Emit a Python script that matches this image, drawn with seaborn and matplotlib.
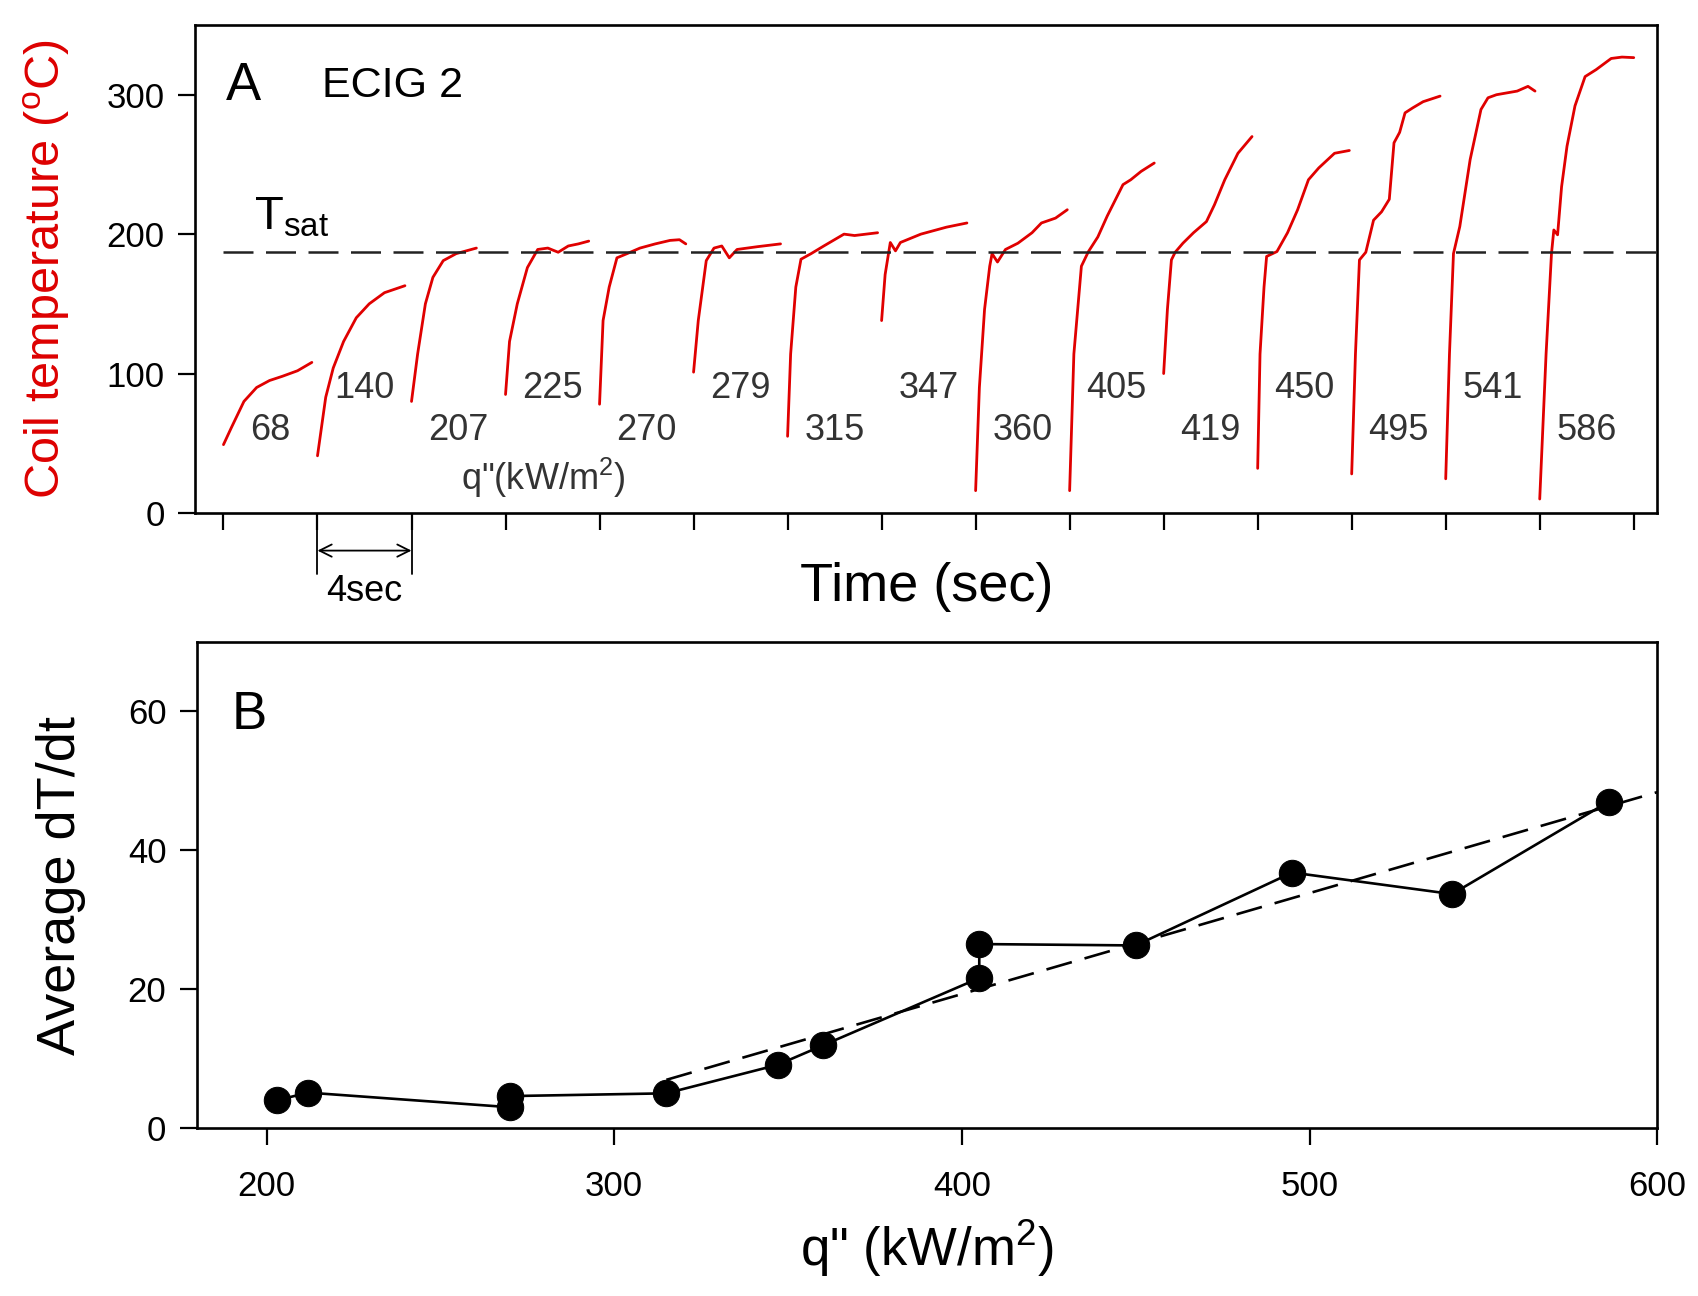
import matplotlib.pyplot as plt
import seaborn as sns
import numpy as np
import pandas as pd

# panel A: coil temperature traces, one per heat flux
q_labels = [68, 140, 207, 225, 270, 279, 315, 347, 360, 405, 419, 450, 495, 541, 586]

run_time = [
    [0, 0.33, 0.87, 1.41, 1.96, 2.5, 3.15, 3.76],
    [4, 4.35, 4.67, 5.11, 5.65, 6.2, 6.85, 7.72],
    [8, 8.26, 8.59, 8.91, 9.35, 9.9, 10.76],
    [12, 12.17, 12.5, 12.93, 13.37, 13.8, 14.24, 14.67, 15.1, 15.54],
    [16, 16.15, 16.41, 16.74, 17.17, 17.72, 18.37, 19.0, 19.4, 19.67],
    [20, 20.2, 20.54, 20.87, 21.2, 21.52, 21.85, 22.72, 23.7],
    [24, 24.13, 24.35, 24.57, 25.0, 25.54, 26.4, 26.85, 27.83],
    [28, 28.15, 28.37, 28.59, 28.8, 29.67, 30.76, 31.63],
    [32, 32.16, 32.38, 32.6, 32.7, 32.93, 33.27, 33.8, 34.4, 34.8, 35.4, 35.9],
    [36, 36.18, 36.5, 36.8, 37.2, 37.6, 38.27, 38.6, 39.04, 39.6],
    [40, 40.16, 40.33, 40.49, 40.82, 41.27, 41.82, 42.16, 42.6, 43.16, 43.76],
    [44, 44.1, 44.27, 44.38, 44.82, 45.27, 45.7, 46.16, 46.6, 47.27, 47.9],
    [48, 48.16, 48.33, 48.6, 48.93, 49.27, 49.6, 49.8, 50.04, 50.27, 50.6, 51.04, 51.76],
    [52, 52.16, 52.33, 52.6, 53.04, 53.5, 53.8, 54.16, 55.04, 55.5, 55.8],
    [56, 56.27, 56.5, 56.6, 56.76, 56.93, 57.16, 57.5, 57.93, 58.4, 59.04, 59.5, 60.0],
]
run_temp = [
    [49, 61, 80, 90, 95, 98, 102, 108],
    [41, 83, 104, 123, 140, 150, 158, 163],
    [80, 114, 150, 169, 181, 186, 190],
    [85, 123, 150, 176, 189, 190, 187, 191.5, 193, 195],
    [78, 138, 162, 183, 186, 190, 193, 195.5, 196, 193],
    [101, 138, 181, 190, 191.5, 183, 189, 191, 193],
    [55, 114, 162, 182, 186, 191.5, 200, 199, 201],
    [138, 171, 194, 188, 194, 200, 205, 208],
    [16, 90, 146, 177, 186, 180, 189, 193.5, 201, 208, 211.5, 217.5],
    [16, 114, 177, 187.5, 198, 213, 235.5, 239, 245, 251],
    [100, 146, 181.5, 187, 193.5, 201, 209, 221, 239, 258, 270],
    [32, 114, 162, 184, 187.5, 201, 217.5, 239, 247.5, 258, 260],
    [28, 114, 181.5, 187, 210, 216, 225, 265.5, 273, 287, 290.6, 295, 299],
    [24.5, 114, 186, 205.5, 253.5, 289.4, 297.8, 300, 302.6, 306, 302.6],
    [10, 114, 186, 203, 199.5, 234, 263, 292, 313, 318, 326, 327, 326.6],
]
t_sat = 187
time_ticks = np.arange(0, 61, 4)

# panel B: average dT/dt vs heat flux
q_flux = [203, 212, 270, 270, 315, 347, 360, 405, 405, 450, 495, 541, 586]
dTdt = [4.0, 5.1, 3.0, 4.6, 5.0, 9.1, 11.9, 21.6, 26.5, 26.3, 36.8, 33.7, 47.0]
fit_from = 315


def main():
    sns.set_style("ticks")
    plt.rcParams['font.family'] = ['Liberation Sans', 'DejaVu Sans']
    plt.rcParams['mathtext.fontset'] = 'custom'
    plt.rcParams['mathtext.rm'] = 'Liberation Sans'
    plt.rcParams['mathtext.it'] = 'Liberation Sans'
    plt.rcParams['text.color'] = 'black'
    plt.rcParams['axes.labelcolor'] = 'black'

    fig = plt.figure(figsize=(16.98, 12.96), dpi=100)
    ax_a = fig.add_axes([0.115, 0.6042, 0.861, 0.3765])
    ax_b = fig.add_axes([0.116, 0.1296, 0.860, 0.375])

    # ---- panel A
    traces = pd.DataFrame({
        'time': np.concatenate(run_time),
        'temp': np.concatenate(run_temp),
        'run': np.repeat(q_labels, [len(t) for t in run_time]),
    })
    sns.lineplot(data=traces, x='time', y='temp', units='run', estimator=None,
                 sort=False, color='#e00000', lw=2.0, ax=ax_a)

    ax_a.set_xlim(-1.2, 61.0)
    ax_a.set_ylim(0, 350)
    x0, x1 = ax_a.get_xlim()
    ax_a.axhline(t_sat, xmin=(0 - x0) / (x1 - x0), xmax=1, color='#222222',
                 lw=1.8, dashes=(12, 5))

    for i, (q, t) in enumerate(zip(q_labels, run_time)):
        ax_a.text(t[0] + 2.0, 89 if i % 2 else 59, str(q), fontsize=26,
                  color='#333333', ha='center', va='center')

    ax_a.text(0.1, 306, 'A', fontsize=38, va='center')
    ax_a.text(4.2, 306, 'ECIG 2', fontsize=31, va='center')
    ax_a.text(1.3, 212, r'T$_\mathregular{sat}$', fontsize=34, va='center')
    ax_a.text(13.6, 25, 'q"(kW/m$^\\mathregular{2}$)', fontsize=26,
              color='#333333', ha='center', va='center')

    # 4 sec scale bar below the axis
    s0, s1 = time_ticks[1], time_ticks[2]
    for s in (s0, s1):
        ax_a.plot([s, s], [-10, -44], color='black', lw=1.3, clip_on=False)
    ax_a.annotate('', xy=(s1, -27), xytext=(s0, -27), annotation_clip=False,
                  arrowprops=dict(arrowstyle='<->', color='black', lw=1.3,
                                  shrinkA=0, shrinkB=0, mutation_scale=22))
    ax_a.text((s0 + s1) / 2, -56, '4sec', fontsize=26, ha='center', va='center')

    ax_a.set_xticks(time_ticks)
    ax_a.set_xticklabels([])
    ax_a.set_yticks([0, 100, 200, 300])
    ax_a.set_xlabel('Time (sec)', fontsize=39)
    ax_a.xaxis.set_label_coords(0.5, -0.10)
    ax_a.set_ylabel('Coil temperature ($^\\mathregular{o}$C)', fontsize=35, color='#dd0000')
    ax_a.yaxis.set_label_coords(-0.084, 0.5)

    # ---- panel B
    flux = pd.DataFrame({'q': q_flux, 'rate': dTdt})
    sns.lineplot(data=flux, x='q', y='rate', sort=False, estimator=None,
                 color='black', lw=1.9, marker='o', markersize=19,
                 markeredgecolor='black', ax=ax_b)

    sub = flux[flux['q'] >= fit_from]
    slope, icpt = np.polyfit(sub['q'], sub['rate'], 1)
    fit_q = np.array([fit_from, 600])
    fit = pd.DataFrame({'q': fit_q, 'rate': slope * fit_q + icpt})
    sns.lineplot(data=fit, x='q', y='rate', color='black', lw=1.9, ax=ax_b)
    ax_b.lines[-1].set_dashes((10, 5))

    ax_b.set_xlim(180, 600)
    ax_b.set_ylim(0, 70)
    ax_b.set_xticks([200, 300, 400, 500, 600])
    ax_b.set_yticks([0, 20, 40, 60])
    ax_b.text(190, 59.5, 'B', fontsize=38, va='center')
    ax_b.set_xlabel('q" (kW/m$^\\mathregular{2}$)', fontsize=38)
    ax_b.xaxis.set_label_coords(0.5, -0.185)
    ax_b.set_ylabel('Average dT/dt', fontsize=39)
    ax_b.yaxis.set_label_coords(-0.076, 0.5)

    for ax in (ax_a, ax_b):
        for sp in ax.spines.values():
            sp.set_color('black')
            sp.set_linewidth(1.9)
        ax.tick_params(direction='out', length=12, width=1.6, labelsize=25,
                       colors='black')
        ax.tick_params(axis='y', pad=10)
        ax.tick_params(axis='x', pad=18)

    fig.savefig('out.png', dpi=100, facecolor='white')


if __name__ == '__main__':
    main()
